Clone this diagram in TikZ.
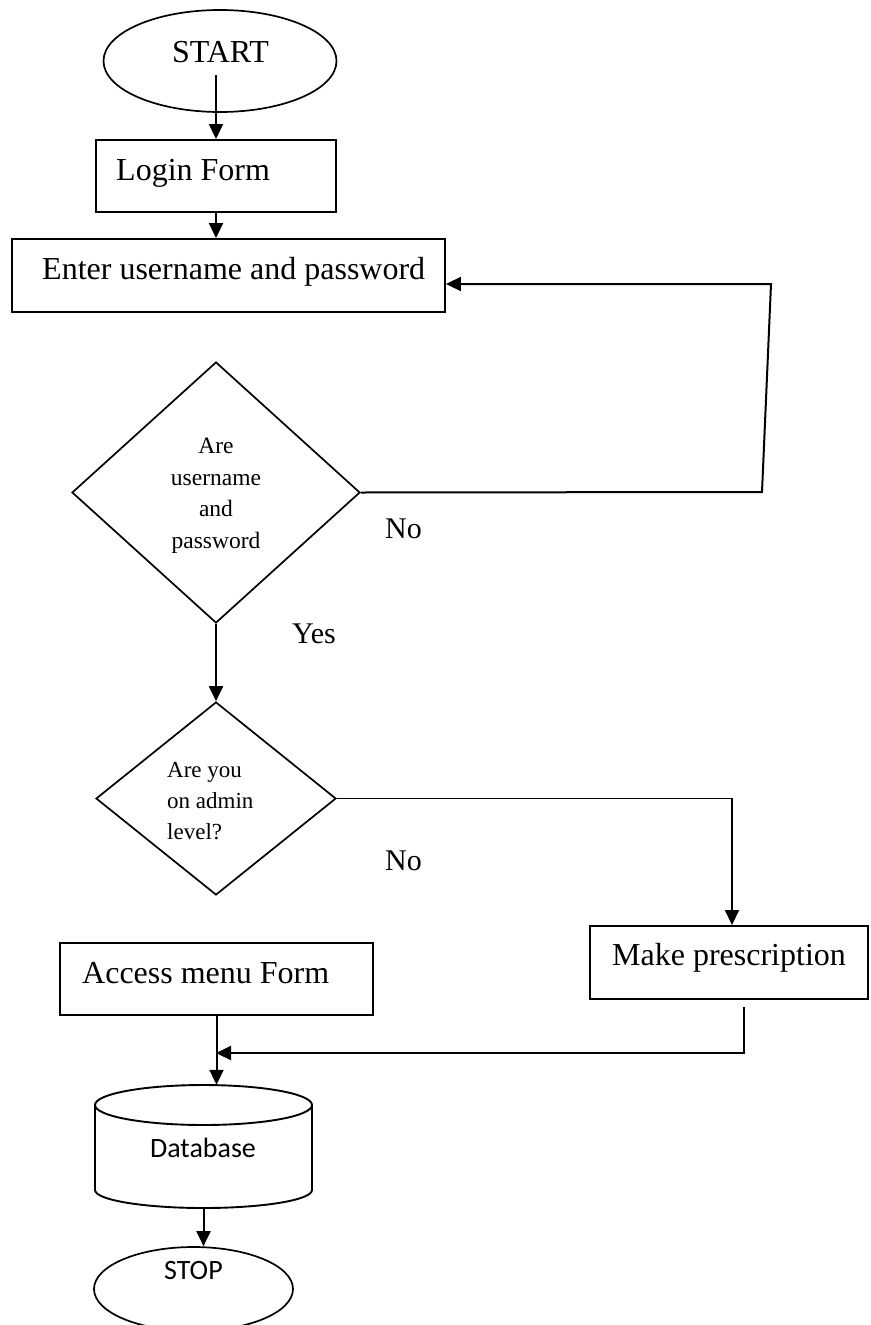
\documentclass[tikz,border=0pt]{standalone}
\usepackage{fontspec}
\setmainfont{Liberation Serif}
\newfontfamily\carlito{Carlito}
\usetikzlibrary{shapes.geometric,arrows.meta,calc}
\begin{document}
\begin{tikzpicture}[x=1pt,y=-1pt,
  box/.style={draw, rectangle, line width=1.9pt, inner sep=0pt},
  dec/.style={draw, diamond, line width=1.7pt, inner sep=0pt},
  oval/.style={draw, ellipse, line width=1.7pt, inner sep=0pt},
  txt/.style={inner sep=0pt, font=\fontsize{32}{38}\selectfont},
  small/.style={inner sep=0pt, font=\fontsize{23.5}{31.5}\selectfont},
  lbl/.style={inner sep=0pt, font=\fontsize{30}{36}\selectfont},
  sans/.style={inner sep=0pt, font=\carlito\fontsize{28}{34}\selectfont},
  flow/.style={line width=2pt, -{Triangle[length=15pt,width=14pt]}},
  thinflow/.style={line width=1.6pt, -{Triangle[length=15pt,width=14pt]}},
  link/.style={line width=1.9pt}]
\clip (0,0) rectangle (870,1325);
\fill[white] (0,0) rectangle (870,1325);

% shapes
\node[oval, minimum width=233pt, minimum height=102pt] (start) at (220,61) {};
\node[txt, anchor=base] (starttxt) at (220.5,62) {START};

\node[box, minimum width=240pt, minimum height=72pt] (login) at (216,176) {};
\node[txt, anchor=base west] (logintxt) at (116,180) {Login Form};

\node[box, minimum width=433pt, minimum height=73pt] (enter) at (228.5,275.5) {};
\node[txt, anchor=base west] (entertxt) at (42,279) {Enter username and password};

\node[dec, minimum width=288pt, minimum height=261pt] (d1) at (216,492.5) {};
\node[small, align=center] (d1txt) at (216,495.5) {Are\\username\\and\\password};

\node[dec, minimum width=240pt, minimum height=193pt] (d2) at (216,798.5) {};
\node[inner sep=0pt, font=\fontsize{23}{31}\selectfont, align=left, anchor=west] (d2txt) at (167,801.4) {Are you\\on admin\\level?};

\node[box, minimum width=278pt, minimum height=73pt] (make) at (729,962.5) {};
\node[txt, anchor=base west] (maketxt) at (612,965) {Make prescription};

\node[box, minimum width=313pt, minimum height=72pt] (access) at (216.5,979) {};
\node[txt, anchor=base west] (accesstxt) at (82,983) {Access menu Form};

% database cylinder
\node[minimum width=217pt, minimum height=123pt, inner sep=0pt] (db) at (203.5,1146.5) {};
\draw[link] (95,1105) -- (95,1190) arc[start angle=180, end angle=360, x radius=108.5pt, y radius=18pt] -- (312,1105);
\draw[link] (203.5,1105) ellipse [x radius=108.5pt, y radius=20pt];
\node[sans] (dbtxt) at (203,1148) {Database};

\node[oval, minimum width=199pt, minimum height=84pt] (stop) at (193.5,1289) {};
\node[sans] (stoptxt) at (193.5,1270) {STOP};

% labels
\node[lbl, anchor=base west] (no1) at (385,538) {No};
\node[lbl, anchor=base west] (yes) at (292,643) {Yes};
\node[lbl, anchor=base west] (no2) at (385,870) {No};

% connectors
\coordinate (sa) at (216,75);
\draw[flow] (sa) -- (login.north);
\draw[flow] (login.south) -- (login.south |- enter.north);
\coordinate (n1) at (762,492);
\coordinate (n2) at (771,284);
\draw[flow] (d1.east) -- (n1) -- (n2) -- (n2 -| enter.east);
\draw[flow] (d1.south) -- (d2.north);
\coordinate (n3) at (732,798.5);
\draw[thinflow] (d2.east) -- (n3) -- (n3 |- make.north);
\coordinate (mo) at (744,1007);
\coordinate (jn) at (216,1053);
\draw[flow] (mo) |- (jn);
\draw[flow] (access.south) -- (access.south |- db.north);
\draw[flow] (db.south) -- (db.south |- stop.north);
\end{tikzpicture}
\end{document}
